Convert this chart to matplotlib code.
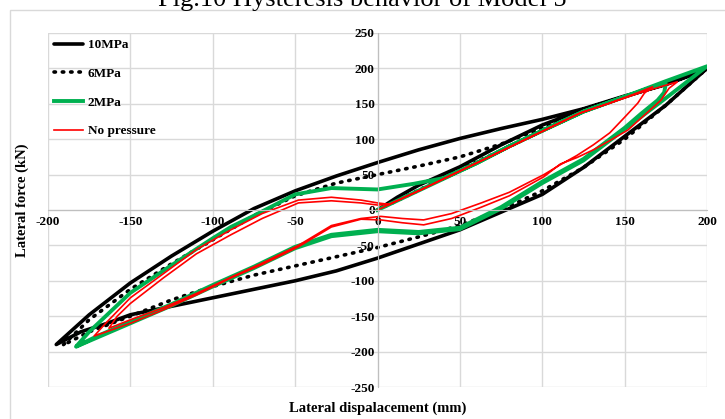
import matplotlib
matplotlib.use("Agg")
import matplotlib.pyplot as plt
from matplotlib.patches import Rectangle

# ---------------- data ----------------
x_10 = [0, 12, 25, 50, 75, 100, 125, 150, 175, 199,
        175, 150, 125, 100, 75, 50, 25, 0, -25, -50, -75, -100, -125, -150, -164, -180, -195,
        -175, -150, -125, -100, -75, -50, -25, 0, 25, 50, 75, 100, 125, 150, 175, 199]
y_10 = [0, 18, 35, 61, 92, 120, 142, 160, 178, 198,
        148, 104, 60, 22, -3, -28, -48, -68, -86, -100, -112, -124, -136, -148, -160, -172, -190,
        -148, -103, -65, -30, 2, 27, 48, 67, 85, 101, 115, 128, 143, 161, 177, 198]

x_6 = [0, 25, 50, 75, 100, 125, 150, 175, 200,
       175, 150, 125, 100, 75, 50, 25, 0, -25, -50, -75, -100, -125, -150, -175, -191,
       -175, -150, -125, -100, -75, -50, -25, 0, 25, 50, 75, 100, 125, 150, 175, 200]
y_6 = [0, 28, 57, 84, 112, 140, 160, 180, 200,
       148, 100, 60, 27, 0, -22, -38, -53, -66, -79, -92, -108, -127, -150, -172, -191,
       -155, -112, -76, -42, -8, 20, 38, 50, 62, 75, 93, 116, 141, 160, 180, 200]

x_2 = [0, 20, 40, 60, 80, 100, 125, 150, 165, 175, 174, 170, 160,
       150, 125, 100, 75, 50, 25, 0, -28, -50, -75, -100, -125, -150, -170, -183,
       -175, -165, -150, -125, -100, -89, -75, -50, -28, 0, 22, 40, 60, 80, 100, 125, 150, 175, 200,
       175, 150, 125, 100, 75, 50, 25, 0, -28, -50, -75, -100, -125, -150, -170, -182]
y_2 = [0, 22, 44, 66, 90, 112, 139, 160, 172, 178, 166, 155, 136,
       116, 72, 40, 4, -25, -31, -28, -35, -52, -80, -106, -133, -158, -178, -193,
       -172, -150, -117, -78, -40, -24, -8, 22, 31, 29, 37, 45, 66, 90, 112, 139, 160, 182, 203,
       158, 114, 70, 38, 2, -27, -33, -30, -37, -54, -82, -108, -135, -160, -180, -192]

x_0 = [0, 25, 50, 75, 100, 123, 141, 155, 167,
       162, 158, 150, 141, 131, 121, 111, 101, 80, 63, 45, 28, 15, 2, -10, -28, -48, -70, -89, -110, -130, -150, -163,
       -158, -150, -130, -110, -89, -70, -48, -28, -10, 0, 7,
       25, 50, 75, 100, 123, 141, 160, 182,
       177, 172, 162, 152, 141, 131, 121, 111, 101, 80, 63, 45, 28, 15, 2, -10, -28, -48, -70, -89, -110, -130, -150, -172,
       -165, -150, -130, -110, -89, -70, -48, -28, -10, 0, 7]
y_0 = [0, 27, 55, 83, 111, 137, 151, 163, 174,
       165, 151, 131, 109, 92, 77, 64, 50, 25, 10, -5, -14, -12, -9, -12, -22, -50, -75, -95, -118, -138, -155, -167,
       -150, -132, -96, -62, -35, -12, 10, 13, 10, 7, 8,
       27, 55, 83, 111, 137, 151, 166, 181,
       172, 155, 134, 113, 98, 85, 74, 65, 47, 20, 4, -12, -21, -18, -14, -13, -24, -52, -77, -96, -120, -141, -160, -178,
       -160, -124, -90, -56, -28, -5, 14, 18, 14, 10, 8]

x_ticks = [-200, -150, -100, -50, 0, 50, 100, 150, 200]
y_ticks = [-250, -200, -150, -100, -50, 0, 50, 100, 150, 200, 250]
labels = ["10MPa", "6MPa", "2MPa", "No pressure"]

# ---------------- figure ----------------
serif = ["Liberation Serif", "DejaVu Serif"]
plt.rcParams["font.family"] = serif
plt.rcParams["axes.unicode_minus"] = False
fig = plt.figure(figsize=(7.25, 4.19), dpi=100)

# outer chart-area border
fig.patches.append(Rectangle((10 / 725, -0.05), 0.99, 1 - 10 / 419 + 0.05,
                             transform=fig.transFigure, fill=False,
                             edgecolor="#d9d9d9", lw=1.0))

fig.text(0.5, 1 - 6 / 419, "Fig.10 Hysteresis behavior of Model 5",
         ha="center", va="baseline", fontsize=19, family=serif)

ax = fig.add_axes([48 / 725, 1 - 387 / 419, (707 - 48) / 725, (387 - 33) / 419])
ax.set_xlim(-200, 200)
ax.set_ylim(-250, 250)
ax.set_xticks(x_ticks)
ax.set_yticks(y_ticks)
ax.grid(True, color="#d9d9d9", lw=1.0)
ax.set_axisbelow(True)

for s in ["top", "right"]:
    ax.spines[s].set_visible(False)
ax.spines["left"].set_position("zero")
ax.spines["bottom"].set_position("zero")
ax.spines["left"].set_color("#bfbfbf")
ax.spines["bottom"].set_color("#bfbfbf")
ax.tick_params(length=0, pad=2)
ax.tick_params(axis="x", pad=4)
for lab in ax.get_xticklabels() + ax.get_yticklabels():
    lab.set_fontweight("bold")
    lab.set_fontsize(9.5)

ax.plot(x_10, y_10, color="black", lw=2.6, label=labels[0], solid_capstyle="round")
ax.plot(x_6, y_6, color="black", lw=2.6, ls=(0, (0.4, 1.9)), dash_capstyle="round",
        label=labels[1])
ax.plot(x_2, y_2, color="#00B050", lw=2.8, label=labels[2])
ax.plot(x_0, y_0, color="#FF0000", lw=1.2, label=labels[3])

leg = ax.legend(loc="upper left", bbox_to_anchor=(0.0, 1.0), frameon=False,
                prop={"family": serif, "weight": "bold", "size": 9.5},
                labelspacing=1.25, handlelength=2.2, handletextpad=0.35,
                borderaxespad=0.15, borderpad=0.3)

fig.text(22 / 725, 1 - 200 / 419, "Lateral force (kN)", rotation=90,
         ha="center", va="center", fontsize=10.5, fontweight="bold", family=serif)
fig.text(378 / 725, 1 - 408 / 419, "Lateral dispalacement (mm)",
         ha="center", va="center", fontsize=10.5, fontweight="bold", family=serif)

fig.savefig("out.png", dpi=100)
